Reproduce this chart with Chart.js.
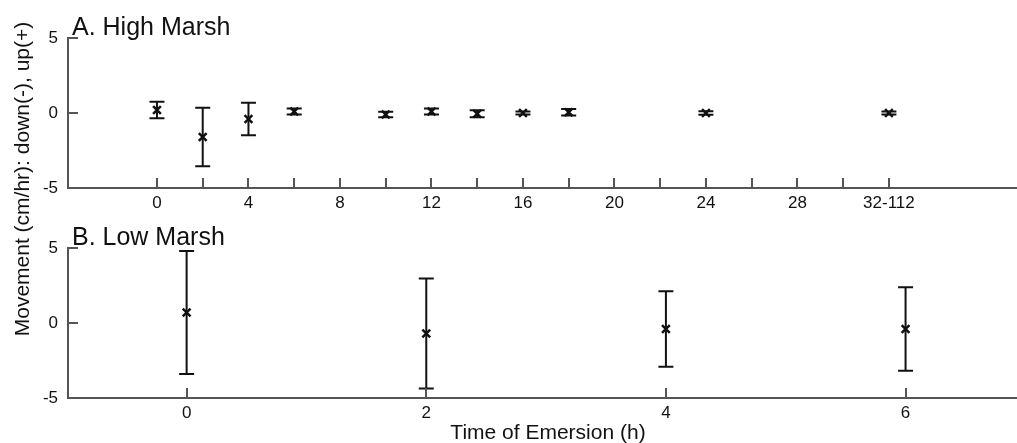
<!DOCTYPE html>
<html>
<head>
<meta charset="utf-8">
<script src="https://cdn.jsdelivr.net/npm/chart.js@4.4.1/dist/chart.umd.min.js"></script>
<style>
  body {
    margin: 0;
    background: #fff;
    width: 1017px;
    height: 443px;
    overflow: hidden;
    position: relative;
    font-family: "Liberation Sans", Arial, sans-serif;
    color: #111;
  }
  canvas { position: absolute; left: 0; }
  #high { top: 0; }
  #low { top: 210px; }
  .panel-title {
    position: absolute;
    left: 72px;
    font-size: 25px;
    line-height: 25px;
    white-space: nowrap;
  }
  #ylab {
    position: absolute;
    left: -143px;
    top: 168px;
    width: 330px;
    height: 22px;
    line-height: 22px;
    font-size: 21px;
    text-align: center;
    white-space: nowrap;
    transform: rotate(-90deg);
  }
  #xlab {
    position: absolute;
    left: 398px;
    top: 421px;
    width: 300px;
    line-height: 21px;
    font-size: 21px;
    text-align: center;
    white-space: nowrap;
  }
</style>
</head>
<body>
<canvas id="high" width="1017" height="215"></canvas>
<canvas id="low" width="1017" height="233"></canvas>
<div class="panel-title" style="top:14px">A. High Marsh</div>
<div class="panel-title" style="top:224px">B. Low Marsh</div>
<div id="ylab">Movement (cm/hr): down(-), up(+)</div>
<div id="xlab">Time of Emersion (h)</div>
<script>
// high marsh: emersion time (h), mean movement and error (cm/hr)
const highTime = [0, 2, 4, 6, 10, 12, 14, 16, 18, 24, 32];
const highMean = [0.2, -1.6, -0.4, 0.1, -0.1, 0.1, -0.05, 0, 0.05, 0, 0];
const highErr = [0.55, 1.95, 1.08, 0.2, 0.18, 0.2, 0.24, 0.1, 0.22, 0.12, 0.1];
const highTicks = [0, 2, 4, 6, 8, 10, 12, 14, 16, 18, 20, 22, 24, 26, 28, 30, 32];
const highTickLabels = { 0: '0', 4: '4', 8: '8', 12: '12', 16: '16', 20: '20', 24: '24', 28: '28', 32: '32-112' };

// low marsh
const lowTime = [0, 2, 4, 6];
const lowMean = [0.7, -0.7, -0.4, -0.4];
const lowErr = [4.1, 3.67, 2.52, 2.78];
const lowTicks = [0, 2, 4, 6];

const ink = '#111';
const axisColor = '#555';
const tickFont = { family: '"Liberation Sans", Arial, sans-serif', size: 17 };

// vertical error bars with caps, drawn through the chart scales
const errorBars = {
  id: 'errorBars',
  afterDatasetsDraw(chart) {
    const { ctx, scales: { x, y } } = chart;
    const ds = chart.data.datasets[0];
    ctx.save();
    ctx.strokeStyle = ink;
    ctx.lineWidth = 2;
    ds.data.forEach((p, i) => {
      const px = x.getPixelForValue(p.x);
      const top = y.getPixelForValue(p.y + ds.errors[i]);
      const bot = y.getPixelForValue(p.y - ds.errors[i]);
      ctx.beginPath();
      ctx.moveTo(px, top); ctx.lineTo(px, bot);
      ctx.moveTo(px - 7.5, top); ctx.lineTo(px + 7.5, top);
      ctx.moveTo(px - 7.5, bot); ctx.lineTo(px + 7.5, bot);
      ctx.stroke();
    });
    ctx.restore();
  }
};

// tick marks pointing into the plot area
const innerTicks = {
  id: 'innerTicks',
  afterDraw(chart) {
    const { ctx, chartArea: a, scales: { x, y } } = chart;
    ctx.save();
    ctx.strokeStyle = axisColor;
    ctx.lineWidth = 2;
    ctx.beginPath();
    x.ticks.forEach(t => {
      const px = Math.round(x.getPixelForValue(t.value));
      ctx.moveTo(px, a.bottom);
      ctx.lineTo(px, a.bottom - 10);
    });
    y.ticks.forEach(t => {
      const py = Math.round(y.getPixelForValue(t.value));
      ctx.moveTo(a.left, py);
      ctx.lineTo(a.left + 10, py);
    });
    ctx.stroke();
    ctx.restore();
  }
};

function panel(id, time, mean, err, ticks, xmin, xmax, label, xHeight) {
  return new Chart(document.getElementById(id), {
    type: 'scatter',
    data: {
      datasets: [{
        data: time.map((t, i) => ({ x: t, y: mean[i] })),
        errors: err,
        pointStyle: 'crossRot',
        pointRadius: 5.5,
        borderWidth: 2.5,
        borderColor: ink,
        backgroundColor: ink
      }]
    },
    options: {
      responsive: false,
      animation: false,
      layout: { autoPadding: false, padding: { top: 38, left: 0, right: 0, bottom: 0 } },
      plugins: { legend: { display: false }, tooltip: { enabled: false } },
      scales: {
        x: {
          type: 'linear',
          min: xmin,
          max: xmax,
          afterBuildTicks: s => { s.ticks = ticks.map(v => ({ value: v })); },
          afterFit: s => { s.height = xHeight; },
          grid: { display: false, drawTicks: false },
          border: { display: true, color: axisColor, width: 2 },
          ticks: {
            autoSkip: false,
            maxRotation: 0,
            padding: 5,
            color: ink,
            font: tickFont,
            callback: label
          }
        },
        y: {
          min: -5,
          max: 5,
          afterFit: s => { s.width = 68; },
          grid: { display: false, drawTicks: false },
          border: { display: true, color: axisColor, width: 2 },
          ticks: { stepSize: 5, padding: 10, color: ink, font: tickFont }
        }
      }
    },
    plugins: [errorBars, innerTicks]
  });
}

panel('high', highTime, highMean, highErr, highTicks, -3.89, 37.6,
  v => (v in highTickLabels ? highTickLabels[v] : ''), 27);
panel('low', lowTime, lowMean, lowErr, lowTicks, -0.99, 6.93,
  v => String(v), 45);
</script>
</body>
</html>
